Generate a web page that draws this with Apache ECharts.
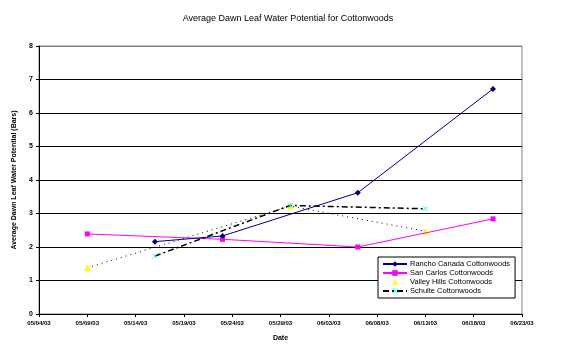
<!DOCTYPE html>
<html><head><meta charset="utf-8">
<script src="https://cdn.jsdelivr.net/npm/echarts@6/dist/echarts.min.js"></script>
<style>html,body{margin:0;padding:0;background:#fff}#c{width:576px;height:354px}</style>
</head><body><div id="c"></div>
<script>
// ---- data ----
var titleText = "Average Dawn Leaf Water Potential for Cottonwoods";
var xAxisName = "Date";
var yAxisName = "Average Dawn Leaf Water Potential (Bars)";
var seriesNames = ["Rancho Canada Cottonwoods", "San Carlos Cottonwoods", "Valley Hills Cottonwoods", "Schulte Cottonwoods"];

var ranchoDates = ["05/16/03", "05/23/03", "06/06/03", "06/20/03"];
var ranchoValues = [2.16, 2.33, 3.62, 6.72];

var sanCarlosDates = ["05/09/03", "05/23/03", "06/06/03", "06/20/03"];
var sanCarlosValues = [2.39, 2.23, 2.00, 2.84];

var valleyDates = ["05/09/03", "05/30/03", "06/13/03"];
var valleyValues = [1.38, 3.22, 2.47];

var schulteDates = ["05/16/03", "05/30/03", "06/13/03"];
var schulteValues = [1.73, 3.24, 3.14];

var xStartDate = "05/04/03";
var xEndDate = "06/23/03";
var xTickDays = 5;
var yMin = 0, yMax = 8, yInterval = 1;

// ---- helpers ----
function parseD(s){var p=s.split('/');return Date.UTC(2000+ +p[2], +p[0]-1, +p[1]);}
var base = parseD(xStartDate);
function dayOf(s){return Math.round((parseD(s)-base)/86400000);}
function fmt(v){var d=new Date(base+v*86400000);function z(n){return (n<10?'0':'')+n;}
  return z(d.getUTCMonth()+1)+'/'+z(d.getUTCDate())+'/'+z(d.getUTCFullYear()%100);}
function pairs(ds,vs){return ds.map(function(d,i){return [dayOf(d),vs[i]];});}

var xSym = 'path://M0,1L1,0L5,4L9,0L10,1L6,5L10,9L9,10L5,6L1,10L0,9L4,5Z';
var font = 'Liberation Sans';
var gridColors = ['#000','#000','#000','#000','#000','#000','#000','#000','#808080'];

var chart = echarts.init(document.getElementById('c'), null, {renderer:'canvas'});
chart.setOption({
  animation:false,
  backgroundColor:'#fff',
  title:{text:titleText,left:'center',top:9,textStyle:{fontFamily:font,fontSize:9,fontWeight:'normal',color:'#000'}},
  grid:{left:39,right:54,top:46,bottom:40,show:true,borderColor:'#808080',borderWidth:1,backgroundColor:'#fff'},
  legend:{orient:'vertical',left:378,top:257,padding:[3,5,3,4],itemGap:1,itemWidth:24,itemHeight:7,
    backgroundColor:'#fff',borderColor:'#000',borderWidth:1,borderRadius:0,
    textStyle:{fontFamily:font,fontSize:7.5,color:'#000',padding:[0,0,0,-2]},
    data:[seriesNames[0],seriesNames[1],{name:seriesNames[2],itemStyle:{color:'#ffff00'},lineStyle:{opacity:0}},seriesNames[3]]},
  xAxis:{type:'value',min:dayOf(xStartDate),max:dayOf(xEndDate),interval:xTickDays,
    name:xAxisName,nameLocation:'middle',nameGap:21,
    nameTextStyle:{fontFamily:font,fontSize:7,fontWeight:'bold',color:'#000'},
    axisLine:{show:true,onZero:false,lineStyle:{color:'#000',width:1}},
    axisTick:{show:true,length:3,lineStyle:{color:'#000'}},
    axisLabel:{formatter:fmt,fontFamily:font,fontSize:6,fontWeight:'bold',color:'#000',margin:6,showMinLabel:true,showMaxLabel:true},
    splitLine:{show:false}},
  yAxis:{type:'value',min:yMin,max:yMax,interval:yInterval,
    name:yAxisName,nameLocation:'middle',nameGap:21,nameRotate:90,
    nameTextStyle:{fontFamily:font,fontSize:7,fontWeight:'bold',color:'#000'},
    axisLine:{show:true,lineStyle:{color:'#000',width:1}},
    axisTick:{show:true,length:3,lineStyle:{color:'#000'}},
    axisLabel:{fontFamily:font,fontSize:7,fontWeight:'bold',color:'#000',margin:6},
    splitLine:{show:true,lineStyle:{color:gridColors,width:1}}},
  series:[
    {name:seriesNames[0],type:'line',data:pairs(ranchoDates,ranchoValues),symbol:'diamond',symbolSize:6,
      lineStyle:{color:'#000080',width:1},itemStyle:{color:'#000080'},z:4},
    {name:seriesNames[1],type:'line',data:pairs(sanCarlosDates,sanCarlosValues),symbol:'rect',symbolSize:5,
      lineStyle:{color:'#ff00ff',width:1},itemStyle:{color:'#ff00ff'},z:3},
    {name:seriesNames[2],type:'line',data:pairs(valleyDates,valleyValues),symbol:'triangle',symbolSize:7,
      lineStyle:{color:'#000',width:1,type:[1,4]},itemStyle:{color:'#ffff00'},z:2},
    {name:seriesNames[3],type:'line',data:pairs(schulteDates,schulteValues),symbol:xSym,symbolSize:5,
      lineStyle:{color:'#000',width:1.5,type:[6,3,2,3]},itemStyle:{color:'#00ffff'},z:5}
  ]
});
</script></body></html>
